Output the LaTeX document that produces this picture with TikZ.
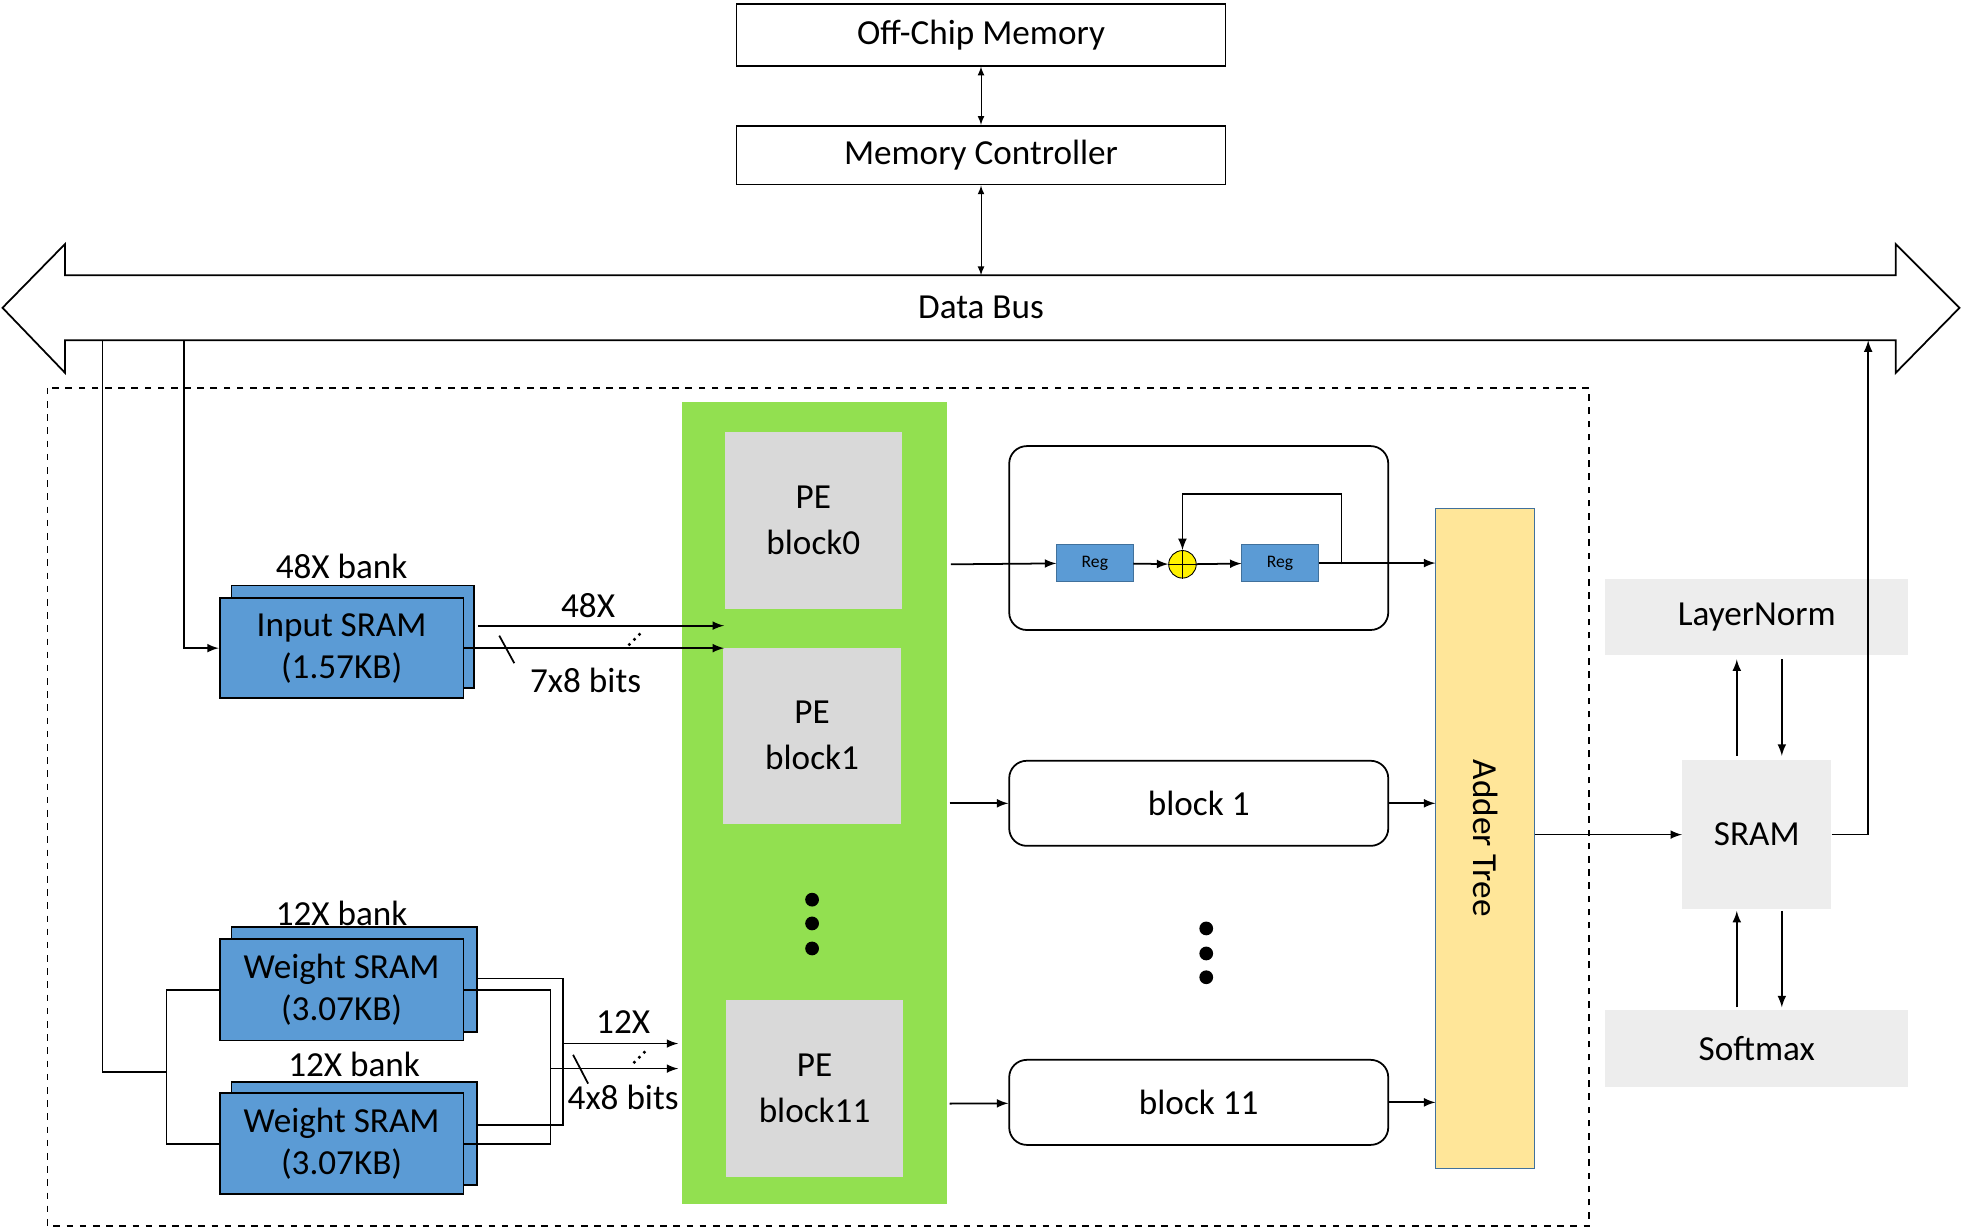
\documentclass[tikz,border=0pt]{standalone}
\usepackage{fontspec}
\setmainfont{Carlito}
\usetikzlibrary{shapes,arrows,calc,positioning}
\definecolor{sramBlue}{RGB}{91,155,213}
\definecolor{peGreen}{RGB}{146,224,80}
\definecolor{peGray}{RGB}{217,217,217}
\definecolor{treeYellow}{RGB}{255,230,153}
\definecolor{treeEdge}{RGB}{65,113,156}
\definecolor{lightGray}{RGB}{237,237,237}
\tikzset{
    tsBox/.style = {rectangle, draw=black, thick, font=\fontsize{16}{19}\selectfont, inner sep=0pt},
    tsSram/.style = {tsBox, fill=sramBlue, align=center, minimum width=3.9cm},
    tsPe/.style = {rectangle, fill=peGray, align=center, font=\fontsize{16}{21}\selectfont,
        minimum width=2.84cm, minimum height=2.82cm},
    tsBlock/.style = {tsBox, rounded corners=8pt, minimum width=6.06cm, minimum height=1.36cm},
    tsReg/.style = {rectangle, draw=treeEdge, fill=sramBlue, font=\fontsize{8}{9}\selectfont,
        minimum width=1.22cm, minimum height=0.6cm, inner sep=0pt},
    tsSide/.style = {rectangle, fill=lightGray, font=\fontsize{16}{19}\selectfont},
    tsLabel/.style = {font=\fontsize{16}{19}\selectfont},
    tsArrow/.style = {-latex, thick},
    tsLine/.style = {thick}
}

\begin{document}
\begin{tikzpicture}[x=0.02cm, y=-0.02cm]
    \useasboundingbox (0,0) rectangle (1568,982);

    % memory side
    \node[tsBox, minimum width=7.82cm, minimum height=0.98cm] (offchip) at (784,28) {Off-Chip Memory};
    \node[tsBox, minimum width=7.82cm, minimum height=0.94cm] (memctrl) at (784,124) {Memory Controller};
    \draw[latex-latex] (offchip) -- (memctrl);

    % data bus
    \draw[thick] (52,220) -- (1515,220) -- (1515,195) -- (1566,246) -- (1515,298) -- (1515,272)
        -- (52,272) -- (52,298) -- (2,246) -- (52,195) -- cycle;
    \node[tsLabel] (bus) at (784,246) {Data Bus};
    \coordinate (busTop) at (784,220);
    \draw[latex-latex] (memctrl) -- (busTop);

    % accelerator frame
    \draw[thick, dashed] (38,310) rectangle (1270,980);
    \fill[peGreen] (545,321) rectangle (757,962);
    \node[tsPe] (pe0) at (650,416) {PE\\block0};
    \node[tsPe] (pe1) at (649,588) {PE\\block1};
    \node[tsPe] (pe11) at (651,870) {PE\\block11};
    \foreach \y in {719,738,758} \fill (649,\y) circle (5.5);

    % input SRAM
    \draw[thick, fill=sramBlue] (185,468) rectangle (379,550);
    \node[tsSram, minimum height=1.6cm] (insram) at (273,518) {Input SRAM\\(1.57KB)};
    \node[tsLabel] (inbank) at (273,453) {48X bank};
    \coordinate (inTap) at (147,272);
    \draw[tsArrow] (inTap) |- (insram.west);
    \coordinate (inA) at (382,500);
    \coordinate (inB) at (insram.east);
    \draw[tsArrow] (inA) -- (inA -| pe0.west);
    \draw[tsArrow] (inB) -- (inB -| pe0.west);
    \draw[thick] (399,508) -- (411,530);
    \foreach \i in {0,1,2} \fill (503+4*\i,515-4*\i) circle (1.4);
    \node[tsLabel] (in48) at (470,484) {48X};
    \node[tsLabel] (inbits) at (468,544) {7x8 bits};

    % weight SRAMs
    \draw[thick, fill=sramBlue] (185,741) rectangle (381,825);
    \node[tsSram, minimum height=1.62cm] (wsramA) at (273,791) {Weight SRAM\\(3.07KB)};
    \node[tsLabel] (wbankA) at (273,730) {12X bank};
    \draw[thick, fill=sramBlue] (185,865) rectangle (381,947);
    \node[tsSram, minimum height=1.62cm] (wsramB) at (273,914) {Weight SRAM\\(3.07KB)};
    \node[tsLabel] (wbankB) at (283,851) {12X bank};
    \coordinate (wTap) at (82,272);
    \draw[tsLine] (wTap) |- (133,857);
    \draw[tsLine] (wsramA.west) -| (133,914) -- (wsramB.west);
    \draw[tsLine] (381,782) -| (450,899) -- (381,899);
    \draw[tsLine] (wsramA.east) -| (440,914) -- (wsramB.east);
    \draw[tsArrow] (450,834) -- (542,834);
    \draw[tsArrow] (440,854) -- (542,854);
    \draw[thick] (458,843) -- (470,866);
    \foreach \i in {0,1,2} \fill (507+4*\i,849-4*\i) circle (1.4);
    \node[tsLabel] (w12) at (498,817) {12X};
    \node[tsLabel] (wbits) at (498,877) {4x8 bits};

    % accumulation blocks
    \node[tsBlock, minimum height=2.94cm] (blk0) at (958,430) {};
    \node[tsReg] (regA) at (875,450) {Reg};
    \node[circle, draw, fill=yellow, minimum size=0.44cm, inner sep=0pt] (add) at (945,451) {};
    \draw (add.north) -- (add.south) (add.west) -- (add.east);
    \node[tsReg] (regB) at (1023,450) {Reg};
    \node[tsBlock] (blk1) at (958,642) {block 1};
    \node[tsBlock] (blk11) at (958,881) {block 11};
    \foreach \y in {742,762,781} \fill (964,\y) circle (5.5);

    % adder tree
    \node[rectangle, draw=treeEdge, fill=treeYellow, minimum width=1.58cm, minimum height=10.56cm]
        (tree) at (1187,670) {};
    \node[tsLabel, rotate=-90] (treeText) at (1187,670) {Adder Tree};

    \draw[tsArrow] (760,451) -- (regA);
    \draw[tsArrow] (regA) -- (add);
    \draw[tsArrow] (add) -- (regB);
    \draw[tsArrow] (regB.east) -- (regB.east -| tree.west);
    \draw[tsArrow] (1072,451) |- (945,395) -- (add.north);
    \draw[tsArrow] (759,642) -- (blk1);
    \draw[tsArrow] (blk1.east) -- (blk1.east -| tree.west);
    \draw[tsArrow] (759,882) -- (blk11);
    \draw[tsArrow] (blk11.east) -- (blk11.east -| tree.west);

    % post-processing
    \node[tsSide, minimum width=2.38cm, minimum height=2.38cm] (sram) at (1404,667) {SRAM};
    \node[tsSide, minimum width=4.84cm, minimum height=1.22cm] (lnorm) at (1404,493) {LayerNorm};
    \node[tsSide, minimum width=4.84cm, minimum height=1.24cm] (smax) at (1404,838) {Softmax};
    \draw[tsArrow] (tree.east |- sram.west) -- (sram.west);
    \draw[tsArrow] (1388,604) -- (1388,527);
    \draw[tsArrow] (1424,527) -- (1424,604);
    \draw[tsArrow] (1388,805) -- (1388,728);
    \draw[tsArrow] (1424,728) -- (1424,805);
    \coordinate (busIn) at (1493,272);
    \draw[tsArrow] (sram.east) -| (busIn);
\end{tikzpicture}
\end{document}
